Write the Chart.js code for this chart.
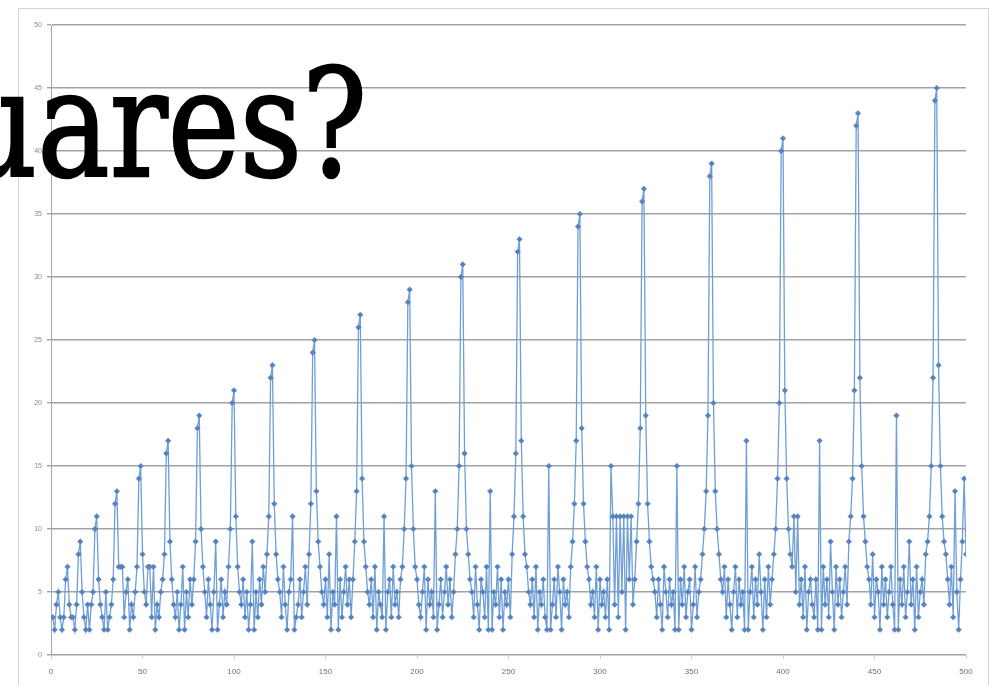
<!DOCTYPE html>
<html>
<head>
<meta charset="utf-8">
<script src="https://cdn.jsdelivr.net/npm/chart.js@4.4.1/dist/chart.umd.min.js"></script>
<style>
  html, body { margin: 0; padding: 0; background: #fff; overflow: hidden; }
  #wrap { position: relative; width: 1005px; height: 685px; }
  #overlay {
    position: absolute; left: -41px; top: 49px;
    font-family: 'DejaVu Serif', serif; font-size: 150px; line-height: 1;
    color: #000; white-space: nowrap;
    -webkit-text-stroke: 2.5px #000;
    transform: scaleX(0.81); transform-origin: left top;
  }
</style>
</head>
<body>
<div id="wrap">
  <canvas id="chart" width="1005" height="685"></canvas>
  <div id="overlay">uares?</div>
</div>
<script>
// one value per n = 1..500, one line per run between consecutive squares
const values = [
  3, 2, 4,
  5, 3, 2, 3, 6,
  7, 4, 3, 3, 2, 4, 8,
  9, 5, 3, 2, 4, 2, 4, 5, 10,
  11, 6, 4, 3, 2, 5, 2, 3, 4, 6, 12,
  13, 7, 7, 7, 3, 5, 6, 2, 4, 3, 5, 7, 14,
  15, 8, 5, 4, 7, 7, 3, 7, 2, 4, 3, 5, 6, 8, 16,
  17, 9, 6, 4, 3, 5, 2, 4, 7, 2, 5, 3, 6, 4, 6, 9, 18,
  19, 10, 7, 5, 3, 6, 4, 2, 5, 9, 2, 4, 6, 3, 5, 4, 7, 10, 20,
  21, 11, 7, 5, 4, 6, 3, 5, 2, 4, 9, 2, 5, 3, 6, 4, 7, 5, 8, 11, 22,
  23, 12, 8, 6, 5, 3, 7, 4, 2, 5, 6, 11, 2, 3, 4, 6, 3, 5, 7, 4, 8, 12, 24,
  25, 13, 9, 7, 5, 4, 6, 3, 8, 2, 5, 4, 11, 2, 6, 3, 5, 7, 4, 6, 3, 6, 9, 13, 26,
  27, 14, 9, 7, 5, 4, 6, 3, 7, 2, 5, 4, 3, 11, 2, 5, 6, 3, 7, 4, 5, 3, 6, 7, 10, 14, 28,
  29, 15, 10, 7, 6, 4, 3, 5, 7, 2, 6, 4, 5, 3, 13, 2, 4, 6, 3, 5, 7, 4, 6, 3, 5, 8, 10, 15, 30,
  31, 16, 10, 8, 6, 5, 3, 7, 4, 2, 6, 5, 3, 7, 2, 13, 2, 5, 4, 7, 3, 6, 2, 5, 4, 6, 3, 8, 11, 16, 32,
  33, 17, 11, 8, 7, 5, 4, 6, 3, 7, 2, 5, 4, 6, 3, 2, 15, 2, 4, 6, 3, 7, 5, 2, 6, 4, 5, 3, 7, 9, 12, 17, 34,
  35, 18, 12, 9, 7, 6, 4, 5, 3, 7, 2, 6, 4, 5, 3, 6, 2, 15, 11, 4, 11, 3, 11, 5, 11, 2, 11, 6, 11, 4, 6, 9, 12, 18, 36,
  37, 19, 12, 9, 7, 6, 5, 3, 6, 4, 2, 7, 5, 3, 6, 4, 5, 2, 15, 2, 6, 4, 7, 3, 5, 6, 2, 4, 7, 3, 5, 6, 8, 10, 13, 19, 38,
  39, 20, 13, 10, 8, 6, 5, 7, 3, 6, 4, 2, 5, 7, 3, 6, 4, 5, 2, 17, 2, 5, 7, 3, 6, 4, 8, 5, 2, 6, 3, 7, 4, 6, 8, 10, 14, 20, 40,
  41, 21, 14, 10, 8, 7, 11, 5, 11, 4, 6, 3, 7, 2, 5, 6, 4, 3, 6, 2, 17, 2, 7, 4, 6, 3, 9, 5, 2, 7, 4, 6, 3, 5, 7, 4, 9, 11, 14, 21, 42,
  43, 22, 15, 11, 9, 7, 6, 4, 8, 3, 6, 5, 2, 7, 4, 6, 3, 5, 7, 4, 2, 19, 2, 6, 4, 7, 3, 5, 9, 4, 6, 2, 7, 3, 5, 6, 4, 8, 9, 11, 15, 22, 44,
  45, 23, 15, 11, 9, 8, 6, 4, 7, 3, 13, 5, 2, 6, 9, 14, 8
];
const xTicks = [0, 50, 100, 150, 200, 250, 300, 350, 400, 450, 500];
const yTicks = [0, 5, 10, 15, 20, 25, 30, 35, 40, 45, 50];

const points = values.map((v, i) => ({ x: i + 1, y: v }));

// white page + thin frame like the pasted excel chart
const framePlugin = {
  id: 'frame',
  beforeDraw(chart) {
    const c = chart.ctx;
    c.save();
    c.fillStyle = '#fff';
    c.fillRect(0, 0, chart.width, chart.height);
    c.strokeStyle = '#d4d4d4';
    c.lineWidth = 1;
    c.strokeRect(18.5, 8.5, 970, 700);
    c.restore();
  }
};

new Chart(document.getElementById('chart'), {
  type: 'line',
  data: {
    datasets: [{
      data: points,
      borderColor: '#6f9fd6',
      borderWidth: 1.3,
      tension: 0,
      pointStyle: 'rectRot',
      pointRadius: 2.8,
      pointBackgroundColor: '#5683bd',
      pointBorderColor: '#5683bd',
      pointBorderWidth: 0.5
    }]
  },
  options: {
    responsive: false,
    animation: false,
    events: [],
    layout: { padding: { left: 18, right: 39, top: 25, bottom: 0 } },
    plugins: { legend: { display: false }, tooltip: { enabled: false } },
    scales: {
      x: {
        type: 'linear', min: 0, max: 500,
        afterBuildTicks: s => { s.ticks = xTicks.map(v => ({ value: v })); },
        afterFit: s => { s.height = 30; },
        grid: { drawOnChartArea: false, drawTicks: true, tickLength: 4, color: '#cfcfcf' },
        border: { color: '#cfcfcf' },
        ticks: { font: { size: 8, family: 'Liberation Sans' }, color: '#6f6f6f', padding: 8, maxRotation: 0 }
      },
      y: {
        min: 0, max: 50,
        afterBuildTicks: s => { s.ticks = yTicks.map(v => ({ value: v })); },
        afterFit: s => { s.width = 33; },
        grid: { color: '#a2a2a2', lineWidth: 1.4, tickLength: 4 },
        border: { color: '#a8a8a8' },
        ticks: { font: { size: 7, family: 'Liberation Sans' }, color: '#8a8a8a', padding: 5 }
      }
    }
  },
  plugins: [framePlugin]
});
</script>
</body>
</html>
